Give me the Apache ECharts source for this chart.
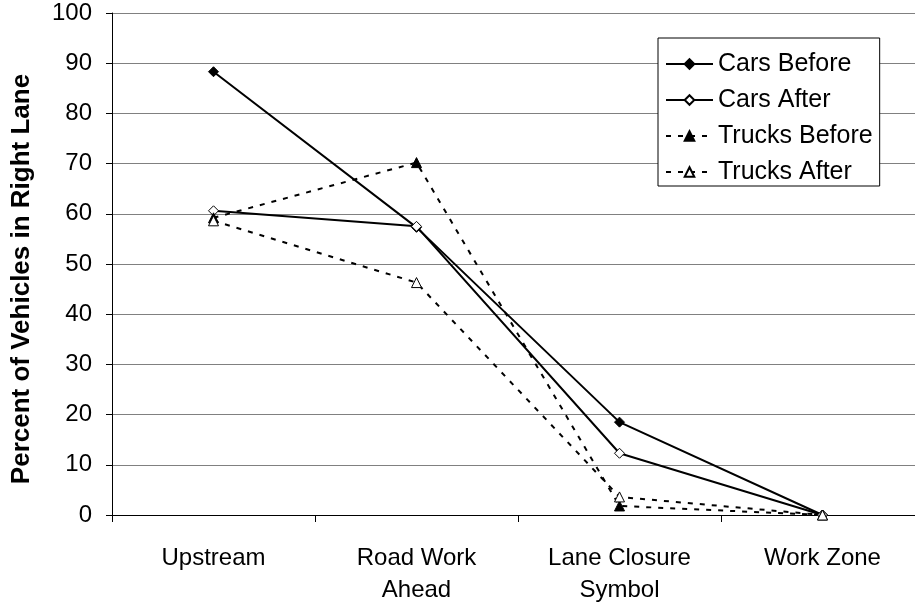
<!DOCTYPE html>
<html>
<head>
<meta charset="utf-8">
<script src="https://cdn.jsdelivr.net/npm/echarts@6/dist/echarts.min.js"></script>
<style>
html,body{margin:0;padding:0;background:#fff;overflow:hidden;}
#chart{width:930px;height:606px;}
</style>
</head>
<body>
<div id="chart"></div>
<script>
var categories = ['Upstream', 'Road Work\nAhead', 'Lane Closure\nSymbol', 'Work Zone'];
var carsBefore = [88.3, 57.3, 18.5, 0];
var carsAfter = [60.6, 57.5, 12.3, 0];
var trucksBefore = [59.2, 70.2, 1.8, 0];
var trucksAfter = [58.6, 46.3, 3.6, 0];
var yTitle = 'Percent of Vehicles in Right Lane';

var font = 'Liberation Sans, Arial, sans-serif';
var chart = echarts.init(document.getElementById('chart'), null, {renderer: 'canvas'});

function mk(name, data, symbol, filled, dashed) {
  return {
    name: name,
    type: 'line',
    data: data,
    symbol: symbol,
    symbolSize: 10,
    showSymbol: true,
    animation: false,
    lineStyle: {color: '#000', width: 2, type: dashed ? [5, 7] : 'solid'},
    itemStyle: {color: filled ? '#000' : '#fff', borderColor: '#000', borderWidth: 1},
    emphasis: {disabled: true}
  };
}

chart.setOption({
  animation: false,
  backgroundColor: '#fff',
  grid: {left: 112, right: 6, top: 13, bottom: 90, containLabel: false},
  graphic: [{
    type: 'text',
    x: 22, y: 279,
    rotation: Math.PI / 2,
    style: {
      text: yTitle,
      fontFamily: font, fontSize: 26, fontWeight: 'bold', fill: '#000',
      align: 'center', verticalAlign: 'middle'
    }
  }],
  legend: {
    orient: 'vertical',
    left: 658,
    top: 38,
    padding: [13, 7, 1, 7],
    itemGap: 10,
    itemWidth: 47,
    itemHeight: 12,
    borderColor: '#000',
    borderWidth: 1,
    borderRadius: 0,
    backgroundColor: '#fff',
    textStyle: {fontFamily: font, fontSize: 25, color: '#000', lineHeight: 26},
    data: ['Cars Before', 'Cars After', 'Trucks Before', 'Trucks After']
  },
  xAxis: {
    type: 'category',
    data: categories,
    boundaryGap: true,
    axisLine: {lineStyle: {color: '#000', width: 1}},
    axisTick: {show: true, length: 7, lineStyle: {color: '#000'}},
    axisLabel: {fontFamily: font, fontSize: 24, color: '#000', margin: 27, lineHeight: 32, interval: 0},
    splitLine: {show: false}
  },
  yAxis: {
    type: 'value',
    min: 0, max: 100, interval: 10,
    axisLine: {show: true, lineStyle: {color: '#000', width: 1}},
    axisTick: {show: true, length: 6, lineStyle: {color: '#000'}},
    axisLabel: {fontFamily: font, fontSize: 24, color: '#000', margin: 20},
    splitLine: {show: true, lineStyle: {color: '#808080', width: 1}}
  },
  series: [
    mk('Cars Before', carsBefore, 'diamond', true, false),
    mk('Cars After', carsAfter, 'diamond', false, false),
    mk('Trucks Before', trucksBefore, 'triangle', true, true),
    mk('Trucks After', trucksAfter, 'triangle', false, true)
  ]
});
</script>
</body>
</html>
